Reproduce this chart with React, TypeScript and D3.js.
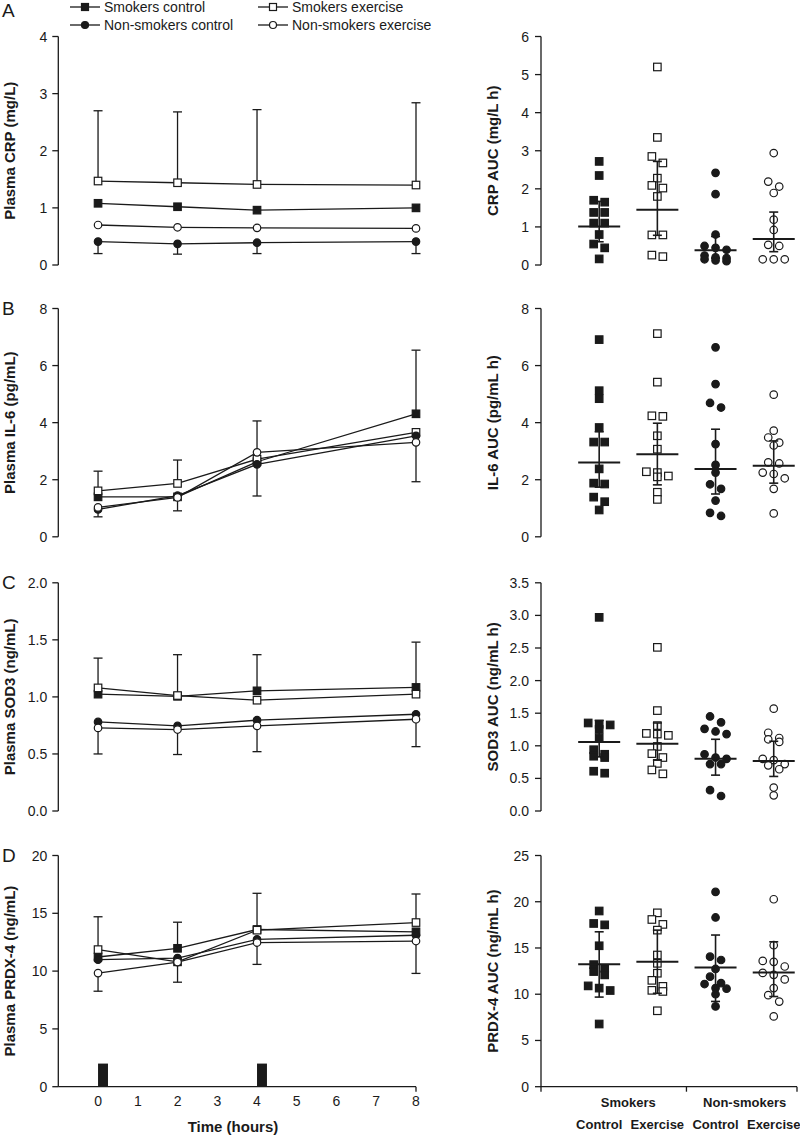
import * as d3 from "d3";

const W = 800;
const H = 1137;
const FONT = "'Liberation Sans', Arial, sans-serif";
const INK = "#1a1a1a";

// time course (left column)
const times = [0, 2, 4, 8];
const timeTicks = [0, 1, 2, 3, 4, 5, 6, 7, 8];
const seriesNames = ["Smokers control", "Smokers exercise", "Non-smokers control", "Non-smokers exercise"];
const seriesShape = ["square", "square", "circle", "circle"];
const seriesFilled = [true, false, true, false];
const exerciseBouts = [[0, 0.25], [4, 4.25]];
const boutHeight = 2;

// A: CRP
const crpSmokCtrl = [1.08, 1.02, 0.96, 1.0];
const crpSmokEx = [1.47, 1.44, 1.41, 1.4];
const crpNonCtrl = [0.41, 0.37, 0.39, 0.41];
const crpNonEx = [0.7, 0.66, 0.65, 0.64];
// [time index, series index, bar end]
const crpErr = [[0, 1, 2.7], [1, 1, 2.68], [2, 1, 2.72], [3, 1, 2.84], [0, 2, 0.2], [1, 2, 0.19], [2, 2, 0.2], [3, 2, 0.2]];

// B: IL-6
const il6SmokCtrl = [1.4, 1.4, 2.63, 4.31];
const il6SmokEx = [1.61, 1.87, 2.72, 3.66];
const il6NonCtrl = [0.96, 1.44, 2.54, 3.54];
const il6NonEx = [1.03, 1.38, 2.96, 3.31];
const il6Err = [[0, 1, 2.3], [1, 1, 2.69], [2, 3, 4.06], [3, 0, 6.54], [0, 2, 0.7], [1, 3, 0.91], [2, 2, 1.43], [3, 3, 1.93]];

// C: SOD3
const sodSmokCtrl = [1.024, 1.005, 1.053, 1.083];
const sodSmokEx = [1.079, 1.012, 0.971, 1.024];
const sodNonCtrl = [0.781, 0.746, 0.796, 0.848];
const sodNonEx = [0.728, 0.714, 0.746, 0.804];
const sodErr = [[0, 1, 1.34], [1, 1, 1.37], [2, 0, 1.37], [3, 0, 1.48], [0, 3, 0.5], [1, 3, 0.495], [2, 3, 0.52], [3, 3, 0.564]];

// D: PRDX-4
const prdxSmokCtrl = [11.22, 11.97, 13.6, 13.4];
const prdxSmokEx = [11.86, 10.8, 13.54, 14.2];
const prdxNonCtrl = [10.99, 11.13, 12.75, 13.1];
const prdxNonEx = [9.83, 10.78, 12.47, 12.6];
const prdxErr = [[0, 1, 14.7], [1, 0, 14.23], [2, 1, 16.73], [3, 1, 16.67], [0, 3, 8.26], [1, 3, 9.04], [2, 3, 10.58], [3, 3, 9.8]];

// AUC (right column), one array per group
const crpAuc = [
  [2.72, 2.35, 1.7, 1.65, 1.38, 1.38, 1.1, 1.1, 0.8, 0.55, 0.45, 0.16],
  [5.2, 3.35, 2.85, 2.68, 2.28, 2.09, 2.02, 1.8, 0.79, 0.79, 0.22, 0.26],
  [2.42, 1.86, 0.8, 0.5, 0.45, 0.4, 0.25, 0.2, 0.18, 0.15, 0.12, 0.1],
  [2.94, 2.19, 2.06, 1.89, 1.19, 0.92, 0.53, 0.5, 0.15, 0.15, 0.15],
];
// [centre, lower, upper]
const crpAucSummary = [[1.01, 0.61, 1.67], [1.45, 0.78, 2.72], [0.39, 0.18, 0.75], [0.68, 0.35, 1.39]];

const il6Auc = [
  [6.91, 5.12, 4.84, 3.83, 3.32, 3.32, 2.38, 1.88, 1.85, 1.39, 1.23, 0.94],
  [7.12, 5.42, 4.24, 4.22, 3.54, 3.07, 2.28, 2.25, 2.13, 2.1, 1.56, 1.31],
  [6.64, 5.35, 4.69, 4.53, 3.25, 2.52, 2.25, 1.84, 1.68, 1.27, 0.84, 0.73],
  [4.98, 3.72, 3.48, 3.3, 3.2, 2.61, 2.57, 2.25, 2.2, 2.05, 1.68, 0.82],
];
const il6AucSummary = [[2.6, 1.74, 3.68], [2.89, 1.82, 3.98], [2.38, 1.5, 3.77], [2.49, 1.88, 3.36]];

const sodAuc = [
  [2.97, 1.35, 1.33, 1.32, 1.25, 1.12, 0.94, 0.87, 0.84, 0.82, 0.61, 0.58],
  [2.51, 1.54, 1.31, 1.19, 1.18, 1.16, 0.99, 0.88, 0.82, 0.73, 0.63, 0.57],
  [1.45, 1.36, 1.26, 1.22, 1.18, 0.87, 0.82, 0.8, 0.72, 0.72, 0.32, 0.23],
  [1.57, 1.2, 1.12, 1.1, 1.06, 0.8, 0.78, 0.72, 0.7, 0.64, 0.36, 0.24],
];
const sodAucSummary = [[1.06, 0.83, 1.39], [1.03, 0.78, 1.35], [0.8, 0.55, 1.1], [0.765, 0.53, 1.07]];

const prdxAuc = [
  [19.0, 17.65, 17.5, 15.24, 13.2, 12.8, 12.45, 12.09, 10.9, 10.66, 10.4, 6.78],
  [18.8, 18.08, 17.55, 16.93, 14.24, 13.34, 12.27, 11.5, 10.85, 10.42, 10.3, 8.21],
  [21.06, 18.3, 14.06, 13.7, 12.73, 11.9, 11.2, 11.1, 10.66, 10.6, 10.0, 8.68],
  [20.27, 15.3, 13.6, 13.5, 13.0, 12.3, 12.1, 11.6, 10.66, 9.9, 9.2, 7.6],
];
const prdxAucSummary = [[13.24, 9.69, 16.75], [13.52, 10.1, 16.93], [12.88, 9.22, 16.4], [12.34, 9.75, 15.67]];

const groupLabels = ["Control", "Exercise", "Control", "Exercise"];
const smokingLabels = ["Smokers", "Non-smokers"];

const panels = [
  {
    letter: "A", title: "Plasma CRP (mg/L)", max: 4, ticks: [0, 1, 2, 3, 4], fmt: "d",
    series: [crpSmokCtrl, crpSmokEx, crpNonCtrl, crpNonEx], err: crpErr,
    rTitle: "CRP AUC (mg/L h)", rMax: 6, rTicks: [0, 1, 2, 3, 4, 5, 6], rFmt: "d",
    auc: crpAuc, summary: crpAucSummary, top: 36.5, bottom: 265,
  },
  {
    letter: "B", title: "Plasma IL-6 (pg/mL)", max: 8, ticks: [0, 2, 4, 6, 8], fmt: "d",
    series: [il6SmokCtrl, il6SmokEx, il6NonCtrl, il6NonEx], err: il6Err,
    rTitle: "IL-6 AUC (pg/mL h)", rMax: 8, rTicks: [0, 2, 4, 6, 8], rFmt: "d",
    auc: il6Auc, summary: il6AucSummary, top: 308.5, bottom: 536.8,
  },
  {
    letter: "C", title: "Plasma SOD3 (ng/mL)", max: 2, ticks: [0, 0.5, 1, 1.5, 2], fmt: ".1f",
    series: [sodSmokCtrl, sodSmokEx, sodNonCtrl, sodNonEx], err: sodErr,
    rTitle: "SOD3 AUC (ng/mL h)", rMax: 3.5, rTicks: [0, 0.5, 1, 1.5, 2, 2.5, 3, 3.5], rFmt: ".1f",
    auc: sodAuc, summary: sodAucSummary, top: 582.8, bottom: 811,
  },
  {
    letter: "D", title: "Plasma PRDX-4 (ng/mL)", max: 20, ticks: [0, 5, 10, 15, 20], fmt: "d",
    series: [prdxSmokCtrl, prdxSmokEx, prdxNonCtrl, prdxNonEx], err: prdxErr,
    rTitle: "PRDX-4 AUC (ng/mL h)", rMax: 25, rTicks: [0, 5, 10, 15, 20, 25], rFmt: "d",
    auc: prdxAuc, summary: prdxAucSummary, top: 855.5, bottom: 1086.7,
  },
];

const xTime = d3.scaleLinear().domain([-1, 8]).range([58.3, 416]);
const xGroup = d3.scaleLinear().domain([0, 4.4]).range([541, 797]);

function Marker({ x, y, k, size = 7.5 }: { x: number; y: number; k: number; size?: number }) {
  const fill = seriesFilled[k] ? INK : "#fff";
  if (seriesShape[k] === "square") {
    return <rect x={x - size / 2} y={y - size / 2} width={size} height={size} fill={fill} stroke={INK} strokeWidth={1.2} />;
  }
  return <circle cx={x} cy={y} r={size / 2} fill={fill} stroke={INK} strokeWidth={1.2} />;
}

function YAxis({ x, y, ticks, fmt, labelGap }: any) {
  const f = d3.format(fmt);
  const [r0, r1] = y.range();
  return (
    <g>
      <line x1={x} x2={x} y1={r1} y2={r0} stroke={INK} strokeWidth={1.3} />
      {ticks.map((t: number) => (
        <g key={t}>
          <line x1={x - 6} x2={x} y1={y(t)} y2={y(t)} stroke={INK} strokeWidth={1.3} />
          <text x={x - labelGap} y={y(t) + 5} textAnchor="end" fontSize={14} fill={INK}>{f(t)}</text>
        </g>
      ))}
    </g>
  );
}

// simple row-based swarm: points close in height share a row, spread symmetrically
function swarm(vals: number[], y: (v: number) => number, cx: number) {
  const pts = vals.map((v) => ({ v, py: y(v), px: cx })).sort((a, b) => a.py - b.py);
  const out: { v: number; py: number; px: number }[] = [];
  let row: typeof pts = [];
  const flush = () => {
    const n = row.length;
    row.forEach((p, k) => out.push({ ...p, px: cx + (k - (n - 1) / 2) * 11 }));
    row = [];
  };
  for (const p of pts) {
    if (row.length && (p.py - row[0].py > 6.5 || row.length >= 3)) flush();
    row.push(p);
  }
  flush();
  return out;
}

function LinePanel({ p, last }: any) {
  const y = d3.scaleLinear().domain([0, p.max]).range([p.bottom, p.top]);
  const line = d3.line<number>().x((_, i) => xTime(times[i])).y((v) => y(v));
  const mid = (p.top + p.bottom) / 2;
  return (
    <g>
      <text x={2} y={p.letter === "A" ? 17 : p.top + 6} fontSize={19} fill={INK}>{p.letter}</text>
      <text transform={`translate(15,${mid}) rotate(-90)`} textAnchor="middle" fontSize={15} fontWeight="bold" fill={INK}>{p.title}</text>
      <YAxis x={58.3} y={y} ticks={p.ticks} fmt={p.fmt} labelGap={11} />
      {last && (
        <g>
          {exerciseBouts.map(([a, b], i) => (
            <rect key={i} x={xTime(a)} width={xTime(b) - xTime(a)} y={y(boutHeight)} height={y(0) - y(boutHeight)} fill={INK} />
          ))}
          <line x1={xTime(-1)} x2={xTime(8)} y1={y(0)} y2={y(0)} stroke={INK} strokeWidth={1.3} />
          <line x1={xTime(8)} x2={xTime(8)} y1={y(0)} y2={y(0) + 5} stroke={INK} strokeWidth={1.3} />
          {timeTicks.map((t) => (
            <text key={t} x={xTime(t)} y={y(0) + 19} textAnchor="middle" fontSize={14} fill={INK}>{t}</text>
          ))}
          <text x={233} y={1132} textAnchor="middle" fontSize={15} fontWeight="bold" fill={INK}>Time (hours)</text>
        </g>
      )}
      {p.series.map((s: number[], k: number) => (
        <path key={k} d={line(s) || ""} fill="none" stroke={INK} strokeWidth={1.3} />
      ))}
      {p.err.map(([ti, k, end]: number[], i: number) => {
        const x = xTime(times[ti]);
        return (
          <g key={i} stroke={INK} strokeWidth={1.3}>
            <line x1={x} x2={x} y1={y(p.series[k][ti])} y2={y(end)} />
            <line x1={x - 4.5} x2={x + 4.5} y1={y(end)} y2={y(end)} />
          </g>
        );
      })}
      {p.series.map((s: number[], k: number) =>
        s.map((v, i) => <Marker key={`${k}-${i}`} x={xTime(times[i])} y={y(v)} k={k} />)
      )}
    </g>
  );
}

function AucPanel({ p, last }: any) {
  const y = d3.scaleLinear().domain([0, p.rMax]).range([p.bottom, p.top]);
  const mid = (p.top + p.bottom) / 2;
  return (
    <g>
      <text transform={`translate(498,${mid}) rotate(-90)`} textAnchor="middle" fontSize={15} fontWeight="bold" fill={INK}>{p.rTitle}</text>
      <YAxis x={541} y={y} ticks={p.rTicks} fmt={p.rFmt} labelGap={12} />
      {p.auc.map((vals: number[], g: number) =>
        swarm(vals, y, xGroup(g + 1)).map((pt, i) => <Marker key={`${g}-${i}`} x={pt.px} y={pt.py} k={g} size={7.5} />)
      )}
      {p.summary.map(([c, lo, hi]: number[], g: number) => {
        const x = xGroup(g + 1);
        return (
          <g key={g} stroke={INK} strokeWidth={1.6}>
            <line x1={x} x2={x} y1={y(lo)} y2={y(hi)} />
            <line x1={x - 4.5} x2={x + 4.5} y1={y(lo)} y2={y(lo)} />
            <line x1={x - 4.5} x2={x + 4.5} y1={y(hi)} y2={y(hi)} />
            <line x1={x - 21} x2={x + 21} y1={y(c)} y2={y(c)} strokeWidth={2} />
          </g>
        );
      })}
      {last && (
        <g>
          <line x1={xGroup(0)} x2={xGroup(4.4)} y1={y(0)} y2={y(0)} stroke={INK} strokeWidth={1.3} />
          {[0, 2.5, 4.4].map((t) => (
            <line key={t} x1={xGroup(t)} x2={xGroup(t)} y1={y(0)} y2={y(0) + 5} stroke={INK} strokeWidth={1.3} />
          ))}
          {smokingLabels.map((s, i) => (
            <text key={s} x={xGroup(1.5 + 2 * i)} y={1107} textAnchor="middle" fontSize={13} fontWeight="bold" fill={INK}>{s}</text>
          ))}
          {groupLabels.map((s, i) => (
            <text key={i} x={xGroup(i + 1)} y={1129} textAnchor="middle" fontSize={13} fontWeight="bold" fill={INK}>{s}</text>
          ))}
        </g>
      )}
    </g>
  );
}

function Legend() {
  const cols = [70, 258];
  const rowsY = [7, 25];
  return (
    <g>
      {seriesNames.map((name, k) => {
        const x0 = cols[k % 2];
        const yy = rowsY[Math.floor(k / 2)];
        return (
          <g key={name}>
            <line x1={x0} x2={x0 + 30} y1={yy} y2={yy} stroke={INK} strokeWidth={1.3} />
            <Marker x={x0 + 15} y={yy} k={k} size={7} />
            <text x={x0 + 34} y={yy + 5} fontSize={14} fill={INK}>{name}</text>
          </g>
        );
      })}
    </g>
  );
}

export default function App() {
  return (
    <svg width={W} height={H} style={{ position: "absolute", left: 0, top: 0, background: "#fff" }} fontFamily={FONT}>
      <rect width={W} height={H} fill="#fff" />
      <Legend />
      {panels.map((p, i) => (
        <g key={p.letter}>
          <LinePanel p={p} last={i === panels.length - 1} />
          <AucPanel p={p} last={i === panels.length - 1} />
        </g>
      ))}
    </svg>
  );
}
